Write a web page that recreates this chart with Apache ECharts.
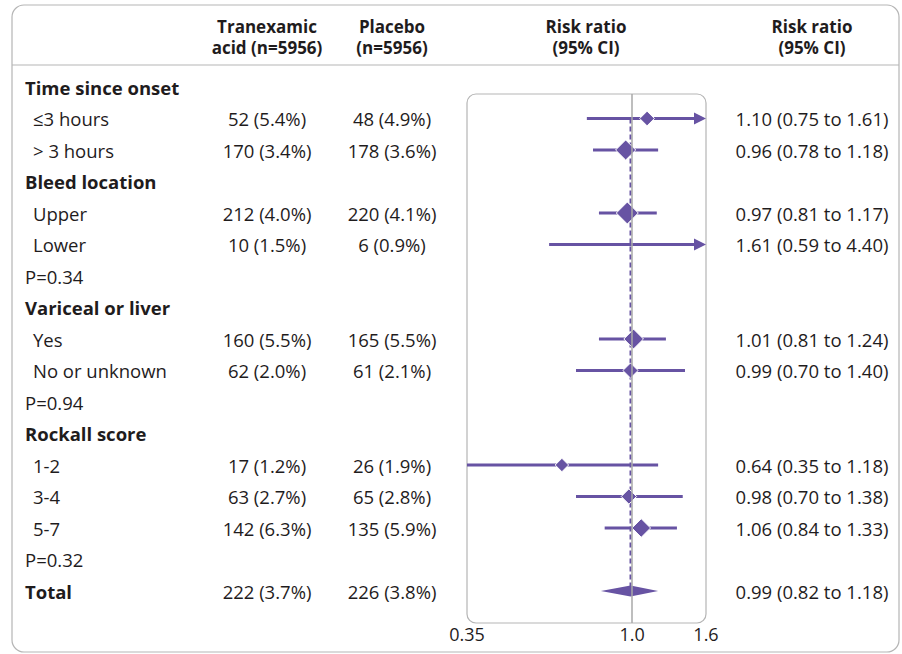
<!DOCTYPE html>
<html>
<head>
<meta charset="utf-8">
<script src="https://cdn.jsdelivr.net/npm/echarts@6/dist/echarts.min.js"></script>
<style>
html,body{margin:0;padding:0;background:#fff;}
#chart{width:902px;height:654px;}
</style>
</head>
<body>
<div id="chart"></div>
<script>
// ---------------- data ----------------
const rowLabels = ['Time since onset','≤3 hours','> 3 hours','Bleed location','Upper','Lower','P=0.34',
  'Variceal or liver','Yes','No or unknown','P=0.94','Rockall score','1-2','3-4','5-7','P=0.32','Total'];
const rowKinds = ['group','item','item','group','item','item','p','group','item','item','p','group','item','item','item','p','total'];
const txEvents = [null,52,170,null,212,10,null,null,160,62,null,null,17,63,142,null,222];
const txPct    = [null,'5.4','3.4',null,'4.0','1.5',null,null,'5.5','2.0',null,null,'1.2','2.7','6.3',null,'3.7'];
const plEvents = [null,48,178,null,220,6,null,null,165,61,null,null,26,65,135,null,226];
const plPct    = [null,'4.9','3.6',null,'4.1','0.9',null,null,'5.5','2.1',null,null,'1.9','2.8','5.9',null,'3.8'];
const rr       = [null,1.10,0.96,null,0.97,1.61,null,null,1.01,0.99,null,null,0.64,0.98,1.06,null,0.99];
const ciLow    = [null,0.75,0.78,null,0.81,0.59,null,null,0.81,0.70,null,null,0.35,0.70,0.84,null,0.82];
const ciHigh   = [null,1.61,1.18,null,1.17,4.40,null,null,1.24,1.40,null,null,1.18,1.38,1.33,null,1.18];
const headerTx = ['Tranexamic','acid (n=5956)'];
const headerPl = ['Placebo','(n=5956)'];
const headerRR = ['Risk ratio','(95% CI)'];
const axisMin = 0.35, axisMax = 1.6;
const tickValues = [0.35, 1.0, 1.6];
const tickLabels = ['0.35','1.0','1.6'];

// ---------------- layout / style ----------------
const W = 902, H = 654;
const rowY0 = 87, rowStep = 31.5;
const plot = {left: 467, top: 94, right: 706, bottom: 623};
const colTx = 267, colPl = 392, colRRtxt = 812, colPlotCenter = 586;
const purple = '#6753a3';
const textColor = '#1f1c1d';
const borderColor = '#b5b5b5';
const FONT = '"Open Sans", "Noto Sans", sans-serif';
const fs = 18.5, fsHead = 17;

const ln = Math.log;
const rowY = i => rowY0 + rowStep * i;
const fmt2 = v => v.toFixed(2);

// ---------------- series data ----------------
const ciData = [], pointData = [], totalData = [];
let totalRow = -1, firstItemRow = -1;
rowKinds.forEach((k, i) => {
  if (k === 'item') {
    if (firstItemRow < 0) firstItemRow = i;
    ciData.push([i, ln(ciLow[i]), ln(ciHigh[i])]);
    if (rr[i] >= axisMin && rr[i] <= axisMax) {
      const n = txEvents[i] + plEvents[i];
      pointData.push({value: [ln(rr[i]), i], symbolSize: 12.5 + 0.022 * n});
    }
  } else if (k === 'total') {
    totalRow = i;
    totalData.push([i, ln(ciLow[i]), ln(rr[i]), ln(ciHigh[i])]);
  }
});

// ---------------- graphics (texts, frames) ----------------
const graphics = [];
graphics.push({type:'rect', z:-10, shape:{x:12, y:5, width:W-15, height:H-7, r:12},
  style:{fill:'none', stroke:borderColor, lineWidth:1.2}});
graphics.push({type:'line', z:-10, shape:{x1:12, y1:65, x2:W-3, y2:65},
  style:{stroke:borderColor, lineWidth:1.2}});
graphics.push({type:'rect', z:-10, shape:{x:plot.left, y:plot.top, width:plot.right-plot.left, height:plot.bottom-plot.top, r:9},
  style:{fill:'none', stroke:borderColor, lineWidth:1.2}});

function txt(x, y, s, align, bold, size) {
  graphics.push({type:'text', x:x, y:y, z:10, style:{text:s, x:0, y:0, fill:textColor,
    font:(bold ? 'bold ' : '') + (size || fs) + 'px ' + FONT,
    textAlign:align, textVerticalAlign:'middle'}});
}
[[headerTx, colTx],[headerPl, colPl],[headerRR, colPlotCenter],[headerRR, colRRtxt]].forEach(([h, x]) => {
  txt(x, 26, h[0], 'center', true, fsHead);
  txt(x, 47, h[1], 'center', true, fsHead);
});
rowLabels.forEach((lab, i) => {
  const k = rowKinds[i];
  const y = rowY(i);
  const bold = (k === 'group' || k === 'total');
  txt(k === 'item' ? 33 : 25, y, lab, 'left', bold);
  if (txEvents[i] != null) {
    txt(colTx, y, txEvents[i] + ' (' + txPct[i] + '%)', 'center', false);
    txt(colPl, y, plEvents[i] + ' (' + plPct[i] + '%)', 'center', false);
    txt(colRRtxt, y, fmt2(rr[i]) + ' (' + fmt2(ciLow[i]) + ' to ' + fmt2(ciHigh[i]) + ')', 'center', false);
  }
});

// ---------------- chart ----------------
const chart = echarts.init(document.getElementById('chart'), null, {renderer:'svg', width:W, height:H});
const xMin = ln(axisMin), xMax = ln(axisMax);

chart.setOption({
  animation: false,
  backgroundColor: '#fff',
  textStyle: {fontFamily: FONT},
  grid: {left: plot.left, top: plot.top, width: plot.right - plot.left, height: plot.bottom - plot.top, show:false},
  xAxis: {
    type: 'value', min: xMin, max: xMax,
    axisLine: {show:false}, axisTick: {show:false}, splitLine: {show:false},
    axisLabel: {
      customValues: tickValues.map(v => ln(v)),
      formatter: v => { const idx = tickValues.findIndex(t => Math.abs(ln(t) - v) < 1e-6); return idx >= 0 ? tickLabels[idx] : ''; },
      color: textColor, fontSize: 18, fontFamily: FONT, margin: 2, showMinLabel: true, showMaxLabel: true, hideOverlap: false
    }
  },
  yAxis: {
    type: 'value', inverse: true,
    min: (plot.top - rowY0) / rowStep, max: (plot.bottom - rowY0) / rowStep,
    show: false
  },
  graphic: graphics,
  series: [
    {
      type: 'line', z: 1, silent: true, symbol: 'none',
      data: [[ln(rr[totalRow]), firstItemRow], [ln(rr[totalRow]), totalRow]],
      lineStyle: {color: purple, width: 2, type: [5, 3]},
      markLine: {
        silent: true, symbol: 'none', label: {show:false},
        lineStyle: {color: '#a8a8a8', width: 1.5, type: 'solid'},
        data: [{xAxis: 0}]
      }
    },
    {
      type: 'custom', z: 3, silent: true,
      data: ciData,
      renderItem: (params, api) => {
        const row = api.value(0), lo = api.value(1), hi = api.value(2);
        const p1 = api.coord([Math.max(lo, xMin), row]);
        const p2 = api.coord([Math.min(hi, xMax), row]);
        const children = [];
        const arrow = hi > xMax;
        children.push({type:'line', shape:{x1:p1[0], y1:p1[1], x2: arrow ? p2[0] - 8 : p2[0], y2:p2[1]},
          style:{stroke: purple, lineWidth: 3}});
        if (arrow) {
          children.push({type:'polygon', shape:{points:[[p2[0], p2[1]], [p2[0]-12, p2[1]-6], [p2[0]-12, p2[1]+6]]},
            style:{fill: purple}});
        }
        return {type:'group', children};
      }
    },
    {
      type: 'scatter', z: 4, silent: true, symbol: 'diamond',
      data: pointData,
      itemStyle: {color: purple, borderColor: '#fff', borderWidth: 1, opacity: 1}
    },
    {
      type: 'custom', z: 4, silent: true,
      data: totalData,
      renderItem: (params, api) => {
        const row = api.value(0);
        const a = api.coord([api.value(1), row]);
        const c = api.coord([api.value(2), row]);
        const b = api.coord([api.value(3), row]);
        const h = 5.5;
        return {type:'polygon', shape:{points:[[a[0], a[1]], [c[0], c[1]-h], [b[0], b[1]], [c[0], c[1]+h]]},
          style:{fill: purple}};
      }
    }
  ]
});
</script>
</body>
</html>
